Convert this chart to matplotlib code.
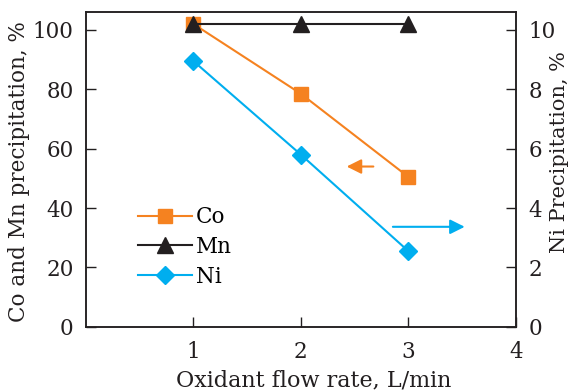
import matplotlib
matplotlib.use("Agg")
import matplotlib.pyplot as plt

flow = [1, 2, 3]
co = [102.0, 78.5, 50.5]
mn = [102.0, 102.0, 102.0]
ni = [8.95, 5.8, 2.55]

x_ticks = [1, 2, 3, 4]
left_ticks = [0, 20, 40, 60, 80, 100]
right_ticks = [0, 2, 4, 6, 8, 10]

ORANGE = "#F58220"
BLACK = "#231F20"
BLUE = "#00AEEF"

plt.rcParams["font.family"] = ["DejaVu Serif"]

fig = plt.figure(figsize=(5.77, 3.91), dpi=100)
ax = fig.add_axes([0.149, 0.164, 0.745, 0.805])
ax2 = ax.twinx()

ax.plot(flow, co, color=ORANGE, marker="s", markersize=10, lw=1.5, label="Co", zorder=3)
ax.plot(flow, mn, color=BLACK, marker="^", markersize=12, lw=1.5, label="Mn", zorder=4)
ax2.plot(flow, ni, color=BLUE, marker="D", markersize=9, lw=1.5, label="Ni")

ax.set_xlim(0, 4)
ax.set_ylim(0, 106)
ax2.set_ylim(0, 10.6)
ax.set_xticks(x_ticks)
ax.set_yticks(left_ticks)
ax2.set_yticks(right_ticks)

for a in (ax, ax2):
    a.tick_params(direction="in", length=7, width=1, labelsize=15.5, colors=BLACK)
    for s in a.spines.values():
        s.set_linewidth(1.1)
        s.set_color(BLACK)
ax.tick_params(axis="x", pad=10)
ax.tick_params(axis="y", pad=9)
ax2.tick_params(axis="y", pad=9)

ax.set_xlabel("Oxidant flow rate, L/min", fontsize=16, color=BLACK)
ax.xaxis.set_label_coords(0.53, -0.135)
ax.set_ylabel("Co and Mn precipitation, %", fontsize=15.5, color=BLACK)
ax.yaxis.set_label_coords(-0.13, 0.495)
ax2.set_ylabel("Ni Precipitation, %", fontsize=15, color=BLACK)
ax2.yaxis.set_label_coords(1.08, 0.556)

ax.annotate("", xy=(2.40, 54), xytext=(2.70, 54),
            arrowprops=dict(arrowstyle="-|>", color=ORANGE, lw=1.5, mutation_scale=22))
ax2.annotate("", xy=(3.55, 3.37), xytext=(2.83, 3.37),
             arrowprops=dict(arrowstyle="-|>", color=BLUE, lw=1.5, mutation_scale=22))

h1, l1 = ax.get_legend_handles_labels()
h2, l2 = ax2.get_legend_handles_labels()
ax2.legend(h1 + h2, l1 + l2, loc="upper left", bbox_to_anchor=(0.101, 0.41),
           frameon=False, fontsize=15.5, handlelength=2.5, labelspacing=0.35,
           handletextpad=0.2, borderaxespad=0)

fig.savefig("out.png", dpi=100)
